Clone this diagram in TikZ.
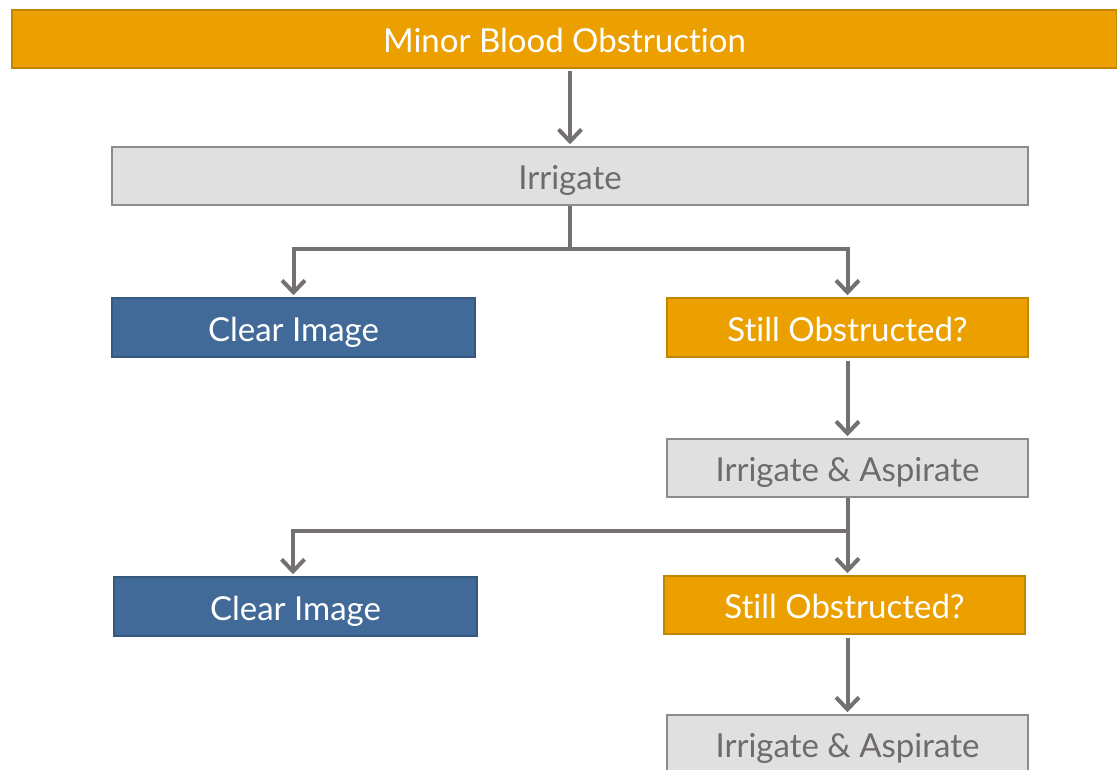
\documentclass[tikz,border=0pt]{standalone}
\usepackage{fontspec}
\setmainfont[Ligatures=NoCommon]{Lato}
\usetikzlibrary{arrows.meta}
\definecolor{orng}{HTML}{EBA000}
\definecolor{orngb}{HTML}{C28500}
\definecolor{gryf}{HTML}{E0E0E0}
\definecolor{gryb}{HTML}{8C8C8C}
\definecolor{gryt}{HTML}{6E6B69}
\definecolor{blu}{HTML}{426A98}
\definecolor{blub}{HTML}{36587F}
\definecolor{arrc}{HTML}{747170}
\begin{document}
\begin{tikzpicture}[x=1pt,y=-1pt,
  box/.style={draw, line width=1.5pt, inner sep=0pt, text height=27pt, text depth=0pt, font=\fontsize{33}{36}\selectfont},
  orbox/.style={box, fill=orng, draw=orngb, text=white},
  grbox/.style={box, fill=gryf, draw=gryb, text=gryt},
  blbox/.style={box, fill=blu, draw=blub, text=white},
  conn/.style={draw=arrc, line width=4pt},
  arr/.style={conn, -{Straight Barb[length=12pt,width=23pt,line width=4pt]}, shorten >=2pt}]
\useasboundingbox (0,0) rectangle (1117,770);
\clip (0,0) rectangle (1117,770);
\node[orbox, minimum width=1105pt, minimum height=58pt] (top) at (564.5,39) {Minor Blood Obstruction};
\node[grbox, minimum width=916pt, minimum height=58pt] (irr) at (570,176) {Irrigate};
\node[blbox, minimum width=363pt, minimum height=59pt] (clr1) at (293.5,327.5) {Clear Image};
\node[orbox, minimum width=361pt, minimum height=59pt] (so1) at (847.5,327.5) {Still Obstructed?};
\node[grbox, minimum width=361pt, minimum height=58pt] (ia1) at (847.5,468) {Irrigate \& Aspirate};
\node[blbox, minimum width=363pt, minimum height=59pt] (clr2) at (295.5,606.5) {Clear Image};
\node[orbox, minimum width=361pt, minimum height=58pt] (so2) at (844.5,605) {Still Obstructed?};
\node[grbox, minimum width=361pt, minimum height=58pt] (ia2) at (847.5,744) {Irrigate \& Aspirate};
\coordinate (j1) at (570,249);
\coordinate (j2) at (847,531);
\draw[arr, shorten <=2pt] (top.south -| irr.north) -- (irr.north);
\draw[conn] (irr.south) -- (j1);
\draw[arr] (j1) -| (clr1.north);
\draw[arr] (j1) -| (so1.north);
\draw[arr, shorten <=3pt] (so1.south) -- (ia1.north);
\draw[arr] (ia1.south) -- (ia1.south |- so2.north);
\draw[arr] (j2) -| ([xshift=-2.5pt]clr2.north);
\draw[arr, shorten <=3pt] (so2.south -| ia2.north) -- (ia2.north);
\end{tikzpicture}
\end{document}
